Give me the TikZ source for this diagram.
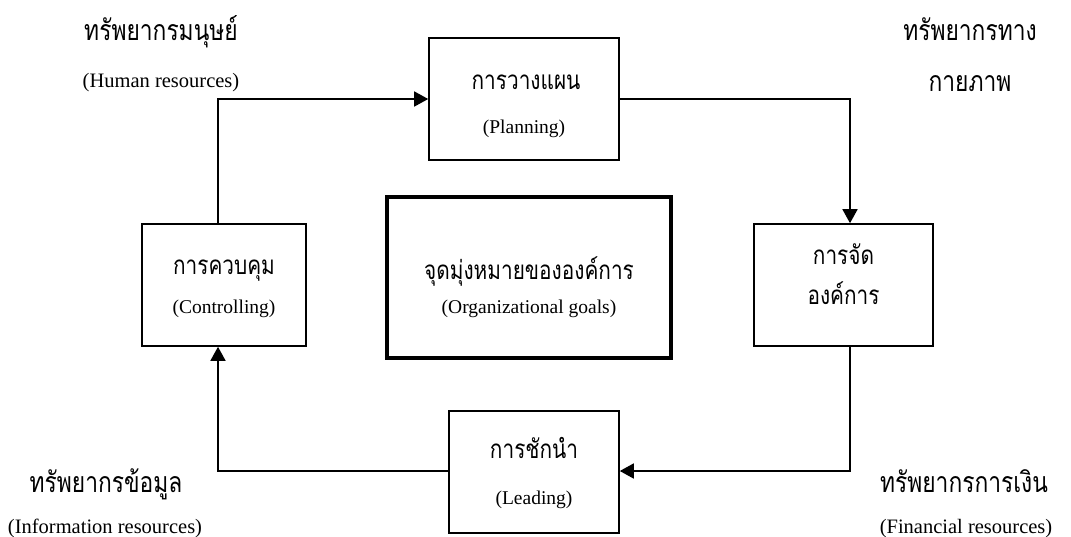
\documentclass[tikz,border=0pt]{standalone}
\usepackage{fontspec}
\setmainfont{Liberation Serif}
\newfontfamily\thaifont[Script=Thai,FakeStretch=0.8]{Loma}
\usetikzlibrary{arrows.meta}
\tikzset{
  box/.style={draw, line width=1.6pt, inner sep=0pt},
  goalbox/.style={draw, line width=4pt, inner sep=0pt},
  th/.style={font=\thaifont\fontsize{26}{26}\selectfont, inner sep=0pt, anchor=base},
  thc/.style={font=\thaifont\fontsize{28.5}{28.5}\selectfont, inner sep=0pt, anchor=base},
  en/.style={font=\fontsize{19.5}{19.5}\selectfont, inner sep=0pt, anchor=base},
  enc/.style={font=\fontsize{20.5}{20.5}\selectfont, inner sep=0pt, anchor=base},
  flow/.style={line width=1.6pt, -{Triangle[length=14pt,width=15pt]}},
}
\begin{document}
\begin{tikzpicture}[x=1pt,y=-1pt]
\useasboundingbox (0,0) rectangle (1071,536);
% boxes
\node[box, minimum width=190pt, minimum height=122pt] (plan) at (524,99) {};
\node[box, minimum width=164pt, minimum height=122pt] (ctrl) at (224,285) {};
\node[goalbox, minimum width=284pt, minimum height=161pt] (goal) at (529,277.5) {};
\node[box, minimum width=179pt, minimum height=122pt] (org) at (843.5,285) {};
\node[box, minimum width=170pt, minimum height=122pt] (lead) at (534,472) {};
% box texts
\node[th] (planth) at (526,89) {การวางแผน};
\node[en] (planen) at (524,133) {(Planning)};
\node[th] (ctrlth) at (224,274) {การควบคุม};
\node[en] (ctrlen) at (224,313) {(Controlling)};
\node[th] (goalth) at (529,279) {จุดมุ่งหมายขององค์การ};
\node[en] (goalen) at (529,313) {(Organizational goals)};
\node[th] (orgth) at (843.5,264) {การจัด};
\node[th] (orgth2) at (843.5,304) {องค์การ};
\node[th] (leadth) at (534,458) {การชักนำ};
\node[en] (leaden) at (534,504) {(Leading)};
% corner labels
\node[thc] (hum) at (161,40) {ทรัพยากรมนุษย์};
\node[enc] (humen) at (161,87) {(Human resources)};
\node[thc] (phy1) at (970,40) {ทรัพยากรทาง};
\node[thc] (phy2) at (970,91) {กายภาพ};
\node[thc] (inf) at (106,492) {ทรัพยากรข้อมูล};
\node[enc] (infen) at (105,533) {(Information resources)};
\node[thc] (fin) at (964,492) {ทรัพยากรการเงิน};
\node[enc] (finen) at (966,533) {(Financial resources)};
% connectors
\draw[flow] ([xshift=-6pt]ctrl.north) |- (plan.west);
\draw[flow] (plan.east) -| ([xshift=6.5pt]org.north);
\draw[flow] ([xshift=6.5pt]org.south) |- ([yshift=1pt]lead.east);
\draw[flow] ([yshift=1pt]lead.west) -| ([xshift=-6pt]ctrl.south);
\end{tikzpicture}
\end{document}
